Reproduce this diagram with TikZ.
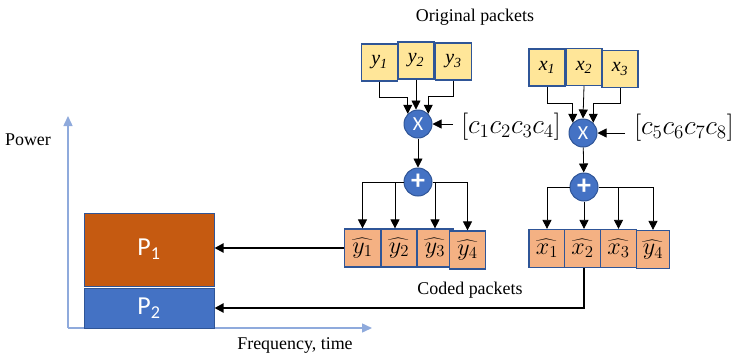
\documentclass[tikz,border=0pt]{standalone}
\usepackage{fontspec}
\setmainfont{Liberation Serif}
\newfontfamily\calib{Carlito}
\usepackage{graphicx}
\usepackage{tikz}
\usetikzlibrary{calc,arrows.meta}

\definecolor{pktyellow}{HTML}{FFE699}
\definecolor{pktorange}{HTML}{F4B183}
\definecolor{pktedge}{HTML}{2F5597}
\definecolor{opblue}{HTML}{4472C4}
\definecolor{axisblue}{HTML}{8FAADC}
\definecolor{pone}{HTML}{C55A11}

\newcommand{\bigmath}[2]{\scalebox{#1}{$#2$}}

\tikzset{
  pkt/.style={draw=pktedge,line width=1.2bp,minimum width=36bp,minimum height=37bp,inner sep=0pt},
  orig/.style={pkt,fill=pktyellow,font=\fontsize{20}{22}\selectfont\itshape},
  coded/.style={pkt,fill=pktorange,minimum height=38bp,font=\fontsize{17}{20}\selectfont},
  op/.style={circle,draw=pktedge,fill=opblue,line width=1bp,minimum size=28bp,inner sep=0pt,
    text=white,font=\calib\fontsize{20}{22}\selectfont},
  conn/.style={line width=0.8bp,-{Triangle[length=9bp,width=9bp]}},
  feed/.style={line width=2bp,-{Triangle[length=9bp,width=9bp]}},
  lbl/.style={font=\fontsize{18}{20}\selectfont,inner sep=0pt},
  coef/.style={font=\fontsize{20}{22}\selectfont,inner sep=0pt},
  pwr/.style={draw=pktedge,line width=1bp,minimum width=130bp,inner sep=0pt,text=white,
    font=\calib\fontsize{26}{28}\selectfont}
}

\begin{document}
\begin{tikzpicture}[x=1bp,y=-1bp]
  \useasboundingbox (0,0) rectangle (735,354);

  %% Axes
  \coordinate (O) at (68,328);
  \draw[axisblue,line width=1.5bp,-{Triangle[length=10bp,width=9bp]}] (O) -- (68,116);
  \draw[axisblue,line width=1.5bp,-{Triangle[length=10bp,width=9bp]}] (O) -- (372,328);
  \node[lbl] (POWER) at (28,140) {Power};
  \node[lbl] (FREQ) at (295,345) {Frequency, time};

  %% Power levels
  \node[pwr,fill=pone,minimum height=73bp] (P1) at (149,249.5) {P\textsubscript{1}};
  \node[pwr,fill=opblue,minimum height=40bp] (P2) at (149,308) {P\textsubscript{2}};

  %% Original packets
  \node[lbl] (ORIG) at (475,17) {Original packets};
  \foreach \i/\x/\y in {1/379.5/62.5,2/416/60.5,3/453.5/61.5}
    \node[orig] (Y\i) at (\x,\y) {y\textsubscript{\i}};
  \foreach \i/\x/\y in {1/547/67.5,2/584/67,3/620/69}
    \node[orig] (X\i) at (\x,\y) {x\textsubscript{\i}};

  %% Encoding
  \node[op] (MULY) at (418,124) {X};
  \node[op] (SUMY) at (418,182) {\scalebox{1.4}{\textbf{+}}};
  \node[op] (MULX) at (583,133) {X};
  \node[op] (SUMX) at (584,187) {\scalebox{1.4}{\textbf{+}}};

  \node[coef] (CY) at (511,127) {\bigmath{1.32}{[c_1c_2c_3c_4]}};
  \node[coef] (CX) at (684,128) {\bigmath{1.32}{[c_5c_6c_7c_8]}};
  \draw[conn] ($(CY.west |- MULY)+(-8,0)$) -- (MULY.east);
  \draw[conn] ($(CX.west |- MULX)+(-9,0)$) -- (MULX.east);

  \draw[conn] (Y1.south) -- ++(0,16) -| (MULY.135);
  \draw[conn] (Y2.south) -- (Y2.south |- MULY.north);
  \draw[conn] (Y3.south) -- ++(0,16) -| (MULY.45);
  \draw[conn] (X1.south) -- ++(0,17) -| (MULX.135);
  \draw[conn] (X2.south) -- (MULX.north);
  \draw[conn] (X3.south) -- ++(0,15) -| (MULX.45);

  \draw[conn] (MULY) -- (SUMY);
  \draw[conn] (MULX) -- (SUMX);

  %% Coded packets
  \foreach \i/\x/\y in {1/362.5/248,2/399/248,3/435/248,4/467.5/250}
    \node[coded] (YH\i) at (\x,\y) {\bigmath{1.4}{\widehat{y_{\i}}}};
  \foreach \i/\x/\y in {1/547/248.5,2/582.5/248.5,3/618.5/248.5}
    \node[coded] (XH\i) at (\x,\y) {\bigmath{1.4}{\widehat{x_{\i}}}};
  \node[coded,minimum width=33bp] (XH4) at (653,249.5) {\bigmath{1.4}{\widehat{y_{4}}}};
  \node[lbl] (CODED) at (470,290) {Coded packets};

  \draw[conn] (SUMY.west) -| (YH1.north);
  \draw[conn] (SUMY.west) -| ($(YH2.north)+(-4,0)$);
  \draw[conn] (SUMY.east) -| (YH3.north);
  \draw[conn] (SUMY.east) -| (YH4.north);
  \draw[conn] (SUMX.west) -| (XH1.north);
  \draw[conn] (SUMX.south) -- (SUMX.south |- XH2.north);
  \draw[conn] (SUMX.east) -| (XH3.north);
  \draw[conn] (SUMX.east) -| (XH4.north);

  %% Mapping to power levels
  \draw[feed] (YH1.west) -- (P1.east |- YH1.west);
  \draw[feed] (SUMX.south |- XH2.south) |- (P2.east);
\end{tikzpicture}
\end{document}
